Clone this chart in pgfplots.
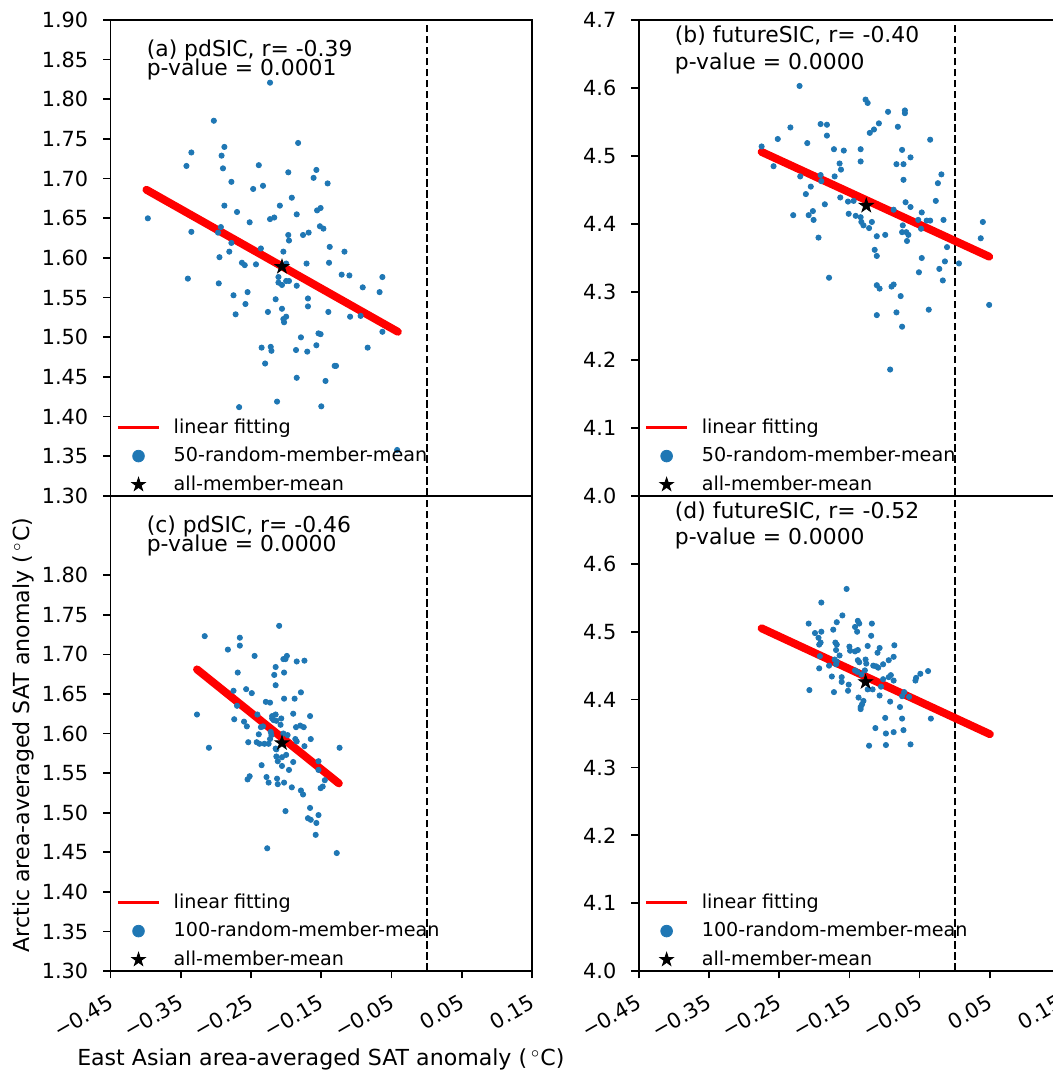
\documentclass[border=0pt]{standalone}
\usepackage{fontspec}
\setmainfont{DejaVu Sans}
\usepackage{pgfplots}
\pgfplotsset{compat=1.18}

\definecolor{mpblue}{HTML}{1F77B4}

% filled five-point star, like matplotlib's '*'
\pgfdeclareplotmark{fstar}{%
  \pgfpathmoveto{\pgfpointpolar{90}{\pgfplotmarksize}}%
  \pgfpathlineto{\pgfpointpolar{126}{0.382\pgfplotmarksize}}%
  \pgfpathlineto{\pgfpointpolar{162}{\pgfplotmarksize}}%
  \pgfpathlineto{\pgfpointpolar{198}{0.382\pgfplotmarksize}}%
  \pgfpathlineto{\pgfpointpolar{234}{\pgfplotmarksize}}%
  \pgfpathlineto{\pgfpointpolar{270}{0.382\pgfplotmarksize}}%
  \pgfpathlineto{\pgfpointpolar{306}{\pgfplotmarksize}}%
  \pgfpathlineto{\pgfpointpolar{342}{0.382\pgfplotmarksize}}%
  \pgfpathlineto{\pgfpointpolar{18}{\pgfplotmarksize}}%
  \pgfpathlineto{\pgfpointpolar{54}{0.382\pgfplotmarksize}}%
  \pgfpathclose
  \pgfusepathqfillstroke}

\tikzset{txt/.style={anchor=base west, font=\fontsize{10.5}{12}\selectfont, inner sep=0pt}}

\pgfplotsset{
  panel/.style={
    scale only axis, width=202.27pt,
    axis line style={black, line width=0.8pt},
    tick align=outside, tick pos=left, major tick length=3.5pt,
    tick style={black, line width=0.8pt},
    xmin=-0.45, xmax=0.15,
    xtick={-0.45,-0.35,-0.25,-0.15,-0.05,0.05,0.15},
    xticklabels={−0.45,−0.35,−0.25,−0.15,−0.05,0.05,0.15},
    xticklabel style={rotate=30, anchor=north east, inner sep=2pt, xshift=-3pt, yshift=-3.2pt},
    yticklabel style={xshift=-3.7pt},
    tick label style={font=\fontsize{10}{12}\selectfont},
    legend cell align=left,
    legend style={at={(0,0)}, anchor=south west, yshift=0.5pt,
      draw=none, fill=none, inner sep=0pt, row sep=4.2pt,
      /tikz/every odd column/.append style={column sep=6.1pt},
      font=\fontsize{9.2}{10}\selectfont,
      nodes={inner xsep=0pt, inner ysep=0pt, text height=7.5pt, text depth=2pt}},
  },
  toppanel/.style={panel, height=228.48pt, xmajorticks=false},
  botpanel/.style={panel, height=228pt},
  sat/.style={only marks, mark=*, mark size=1.25pt, color=mpblue, forget plot},
  fit/.style={red, line width=3.8pt, line cap=round, forget plot},
  amean/.style={only marks, mark=fstar, mark size=3.5pt, color=black, forget plot},
  zero/.style={black, line width=1pt, dash pattern=on 3.7pt off 1.6pt, forget plot},
}

\newcommand{\legendentries}[1]{%
  \addlegendimage{legend image code/.code={\path[draw=none, fill=none] (0pt,0pt) (24pt,0pt); \draw[red, line width=1.4pt] (3.36pt,0pt) -- (23.1pt,0pt);}}
  \addlegendentry{linear fitting}
  \addlegendimage{legend image code/.code={\path[draw=none, fill=none] (0pt,0pt) (24pt,0pt); \fill[mpblue] (13.2pt,0pt) circle (2.8pt);}}
  \addlegendentry{#1}
  \addlegendimage{legend image code/.code={\path[draw=none, fill=none] (0pt,0pt) (24pt,0pt); \path[black, fill=black, mark options={fill=black, draw=black}] plot[mark=fstar, mark size=3.4pt] coordinates {(13.2pt,0pt)};}}
  \addlegendentry{all-member-mean}
}

\begin{document}
\begin{tikzpicture}

% (a)
\begin{axis}[toppanel, at={(53.09pt,276.48pt)}, anchor=south west,
  ymin=1.3, ymax=1.9,
  ytick={1.30,1.35,1.40,1.45,1.50,1.55,1.60,1.65,1.70,1.75,1.80,1.85,1.90},
  yticklabel={\pgfmathprintnumber[fixed,fixed zerofill,precision=2,assume math mode=true]{\tick}}]
\legendentries{50-random-member-mean}
\addplot[zero] coordinates {(0,1.3) (0,1.9)};
\addplot[sat] coordinates {
(-0.223,1.821) (-0.303,1.773) (-0.335,1.733) (-0.288,1.740) (-0.292,1.729) (-0.342,1.716)
(-0.290,1.713) (-0.239,1.717) (-0.278,1.696) (-0.247,1.687) (-0.233,1.691) (-0.288,1.666)
(-0.270,1.658) (-0.209,1.666) (-0.223,1.649) (-0.217,1.651) (-0.397,1.650) (-0.335,1.633)
(-0.252,1.645) (-0.293,1.639) (-0.297,1.632) (-0.278,1.619) (-0.236,1.612) (-0.281,1.608)
(-0.295,1.601) (-0.263,1.594) (-0.259,1.591) (-0.243,1.592) (-0.183,1.745) (-0.197,1.708)
(-0.157,1.711) (-0.161,1.701) (-0.141,1.694) (-0.192,1.676) (-0.185,1.655) (-0.156,1.660)
(-0.151,1.663) (-0.152,1.640) (-0.147,1.637) (-0.197,1.629) (-0.196,1.622) (-0.176,1.629)
(-0.168,1.632) (-0.138,1.614) (-0.117,1.608) (-0.204,1.608) (-0.171,1.593) (-0.139,1.594)
(-0.200,1.593) (-0.340,1.574) (-0.296,1.568) (-0.275,1.553) (-0.255,1.557) (-0.258,1.542)
(-0.272,1.529) (-0.215,1.548) (-0.226,1.532) (-0.211,1.576) (-0.211,1.569) (-0.206,1.566)
(-0.235,1.487) (-0.222,1.488) (-0.221,1.483) (-0.230,1.467) (-0.267,1.412) (-0.213,1.419)
(-0.200,1.571) (-0.196,1.571) (-0.185,1.565) (-0.121,1.579) (-0.110,1.578) (-0.063,1.576)
(-0.091,1.563) (-0.067,1.557) (-0.169,1.549) (-0.169,1.539) (-0.206,1.536) (-0.140,1.532)
(-0.200,1.526) (-0.204,1.523) (-0.203,1.519) (-0.109,1.526) (-0.094,1.527) (-0.063,1.507)
(-0.179,1.500) (-0.154,1.505) (-0.151,1.504) (-0.157,1.490) (-0.186,1.484) (-0.170,1.482)
(-0.084,1.487) (-0.131,1.464) (-0.129,1.464) (-0.185,1.449) (-0.144,1.445) (-0.150,1.413)
(-0.042,1.358)
};
\addplot[fit] coordinates {(-0.399,1.686) (-0.041,1.507)};
\addplot[amean] coordinates {(-0.206,1.589)};
\node[txt] at (rel axis cs:0.085,0.923) {(a) pdSIC, r= -0.39};
\node[txt] at (rel axis cs:0.085,0.883) {p-value = 0.0001};
\end{axis}

% (b)
\begin{axis}[toppanel, at={(306.58pt,276.48pt)}, anchor=south west,
  ymin=4.0, ymax=4.7,
  ytick={4.0,4.1,4.2,4.3,4.4,4.5,4.6,4.7},
  yticklabel={\pgfmathprintnumber[fixed,fixed zerofill,precision=1,assume math mode=true]{\tick}}]
\legendentries{50-random-member-mean}
\addplot[zero] coordinates {(0,4.0) (0,4.7)};
\addplot[sat] coordinates {
(-0.221,4.603) (-0.127,4.583) (-0.124,4.578) (-0.234,4.542) (-0.191,4.547) (-0.182,4.546)
(-0.108,4.548) (-0.115,4.539) (-0.121,4.534) (-0.252,4.525) (-0.182,4.530) (-0.210,4.519)
(-0.275,4.514) (-0.172,4.510) (-0.158,4.508) (-0.134,4.510) (-0.134,4.492) (-0.164,4.489)
(-0.162,4.480) (-0.258,4.485) (-0.220,4.470) (-0.191,4.472) (-0.190,4.463) (-0.171,4.470)
(-0.205,4.455) (-0.212,4.444) (-0.163,4.439) (-0.152,4.433) (-0.144,4.434) (-0.185,4.429)
(-0.230,4.413) (-0.208,4.413) (-0.202,4.419) (-0.201,4.406) (-0.151,4.415) (-0.141,4.412)
(-0.134,4.410) (-0.133,4.403) (-0.130,4.398) (-0.118,4.403) (-0.122,4.394) (-0.111,4.382)
(-0.194,4.380) (-0.114,4.362) (-0.095,4.565) (-0.071,4.567) (-0.071,4.563) (-0.081,4.543)
(-0.035,4.524) (-0.075,4.509) (-0.063,4.498) (-0.083,4.488) (-0.073,4.488) (-0.073,4.465)
(-0.019,4.473) (-0.024,4.460) (-0.027,4.434) (-0.070,4.432) (-0.063,4.425) (-0.087,4.421)
(-0.047,4.417) (-0.052,4.406) (-0.040,4.405) (-0.035,4.405) (-0.016,4.406) (-0.074,4.398)
(-0.048,4.393) (-0.075,4.388) (-0.069,4.388) (-0.066,4.384) (-0.099,4.384) (-0.068,4.375)
(-0.011,4.366) (0.040,4.403) (0.037,4.379) (-0.111,4.353) (-0.179,4.321) (-0.111,4.310)
(-0.107,4.305) (-0.111,4.266) (-0.047,4.350) (-0.014,4.345) (-0.022,4.334) (0.006,4.342)
(-0.051,4.329) (-0.017,4.317) (-0.090,4.308) (-0.087,4.311) (-0.077,4.294) (-0.083,4.270)
(-0.037,4.274) (-0.075,4.249) (0.049,4.281) (-0.092,4.186)
};
\addplot[fit] coordinates {(-0.275,4.506) (0.049,4.352)};
\addplot[amean] coordinates {(-0.126,4.427)};
\node[txt] at (rel axis cs:0.085,0.953) {(b) futureSIC, r= -0.40};
\node[txt] at (rel axis cs:0.085,0.897) {p-value = 0.0000};
\end{axis}

% (c)
\begin{axis}[botpanel, at={(53.09pt,48.48pt)}, anchor=south west,
  ymin=1.3, ymax=1.9,
  ytick={1.30,1.35,1.40,1.45,1.50,1.55,1.60,1.65,1.70,1.75,1.80},
  yticklabel={\pgfmathprintnumber[fixed,fixed zerofill,precision=2,assume math mode=true]{\tick}}]
\legendentries{100-random-member-mean}
\addplot[zero] coordinates {(0,1.3) (0,1.9)};
\addplot[sat] coordinates {
(-0.210,1.736) (-0.316,1.723) (-0.266,1.721) (-0.266,1.711) (-0.283,1.706) (-0.245,1.698)
(-0.215,1.684) (-0.269,1.677) (-0.217,1.674) (-0.215,1.661) (-0.275,1.654) (-0.257,1.656)
(-0.249,1.651) (-0.229,1.640) (-0.223,1.639) (-0.270,1.635) (-0.327,1.624) (-0.274,1.618)
(-0.260,1.615) (-0.256,1.609) (-0.241,1.624) (-0.220,1.622) (-0.215,1.624) (-0.218,1.617)
(-0.214,1.616) (-0.236,1.608) (-0.233,1.609) (-0.239,1.599) (-0.221,1.598) (-0.223,1.593)
(-0.254,1.589) (-0.242,1.589) (-0.238,1.587) (-0.231,1.587) (-0.225,1.587) (-0.310,1.582)
(-0.215,1.581) (-0.214,1.571) (-0.212,1.565) (-0.235,1.560) (-0.252,1.546) (-0.255,1.542)
(-0.228,1.545) (-0.225,1.538) (-0.213,1.543) (-0.212,1.536) (-0.227,1.455) (-0.199,1.698)
(-0.201,1.694) (-0.204,1.694) (-0.185,1.691) (-0.174,1.692) (-0.203,1.677) (-0.179,1.652)
(-0.203,1.644) (-0.188,1.644) (-0.190,1.625) (-0.166,1.622) (-0.220,1.619) (-0.207,1.619)
(-0.208,1.611) (-0.186,1.608) (-0.180,1.610) (-0.175,1.608) (-0.222,1.602) (-0.198,1.598)
(-0.204,1.600) (-0.187,1.593) (-0.185,1.590) (-0.165,1.593) (-0.174,1.584) (-0.124,1.582)
(-0.200,1.573) (-0.206,1.570) (-0.206,1.559) (-0.190,1.564) (-0.196,1.554) (-0.154,1.565)
(-0.154,1.554) (-0.145,1.541) (-0.203,1.538) (-0.192,1.532) (-0.148,1.533) (-0.151,1.531)
(-0.179,1.528) (-0.176,1.523) (-0.201,1.502) (-0.166,1.506) (-0.154,1.497) (-0.169,1.493)
(-0.165,1.491) (-0.157,1.487) (-0.158,1.472) (-0.128,1.449) (-0.214,1.580)
};
\addplot[fit] coordinates {(-0.327,1.681) (-0.125,1.537)};
\addplot[amean] coordinates {(-0.206,1.588)};
\node[txt] at (rel axis cs:0.085,0.923) {(c) pdSIC, r= -0.46};
\node[txt] at (rel axis cs:0.085,0.883) {p-value = 0.0000};
\end{axis}

% (d)
\begin{axis}[botpanel, at={(306.58pt,48.48pt)}, anchor=south west,
  ymin=4.0, ymax=4.7,
  ytick={4.0,4.1,4.2,4.3,4.4,4.5,4.6},
  yticklabel={\pgfmathprintnumber[fixed,fixed zerofill,precision=1,assume math mode=true]{\tick}}]
\legendentries{100-random-member-mean}
\addplot[zero] coordinates {(0,4.0) (0,4.7)};
\addplot[sat] coordinates {
(-0.154,4.563) (-0.190,4.543) (-0.160,4.524) (-0.208,4.512) (-0.168,4.514) (-0.138,4.516)
(-0.136,4.512) (-0.142,4.507) (-0.173,4.503) (-0.139,4.500) (-0.199,4.498) (-0.190,4.500)
(-0.194,4.491) (-0.191,4.484) (-0.193,4.481) (-0.170,4.484) (-0.168,4.481) (-0.150,4.478)
(-0.124,4.479) (-0.169,4.473) (-0.149,4.472) (-0.142,4.471) (-0.138,4.473) (-0.164,4.465)
(-0.192,4.464) (-0.171,4.459) (-0.168,4.456) (-0.169,4.452) (-0.138,4.458) (-0.136,4.455)
(-0.127,4.459) (-0.126,4.453) (-0.179,4.450) (-0.193,4.446) (-0.142,4.443) (-0.139,4.441)
(-0.133,4.437) (-0.128,4.443) (-0.175,4.434) (-0.161,4.433) (-0.161,4.426) (-0.151,4.422)
(-0.124,4.415) (-0.207,4.414) (-0.172,4.411) (-0.152,4.413) (-0.137,4.403) (-0.130,4.398)
(-0.132,4.393) (-0.134,4.389) (-0.134,4.386) (-0.122,4.332) (-0.118,4.512) (-0.119,4.494)
(-0.107,4.476) (-0.110,4.469) (-0.086,4.480) (-0.087,4.463) (-0.094,4.458) (-0.116,4.450)
(-0.112,4.449) (-0.109,4.447) (-0.102,4.452) (-0.038,4.442) (-0.049,4.438) (-0.055,4.432)
(-0.056,4.428) (-0.091,4.436) (-0.094,4.433) (-0.087,4.428) (-0.102,4.430) (-0.105,4.419)
(-0.117,4.415) (-0.072,4.411) (-0.075,4.405) (-0.107,4.406) (-0.065,4.404) (-0.092,4.397)
(-0.078,4.389) (-0.099,4.373) (-0.075,4.372) (-0.034,4.372) (-0.113,4.358) (-0.073,4.355)
(-0.098,4.350) (-0.087,4.352) (-0.098,4.333) (-0.063,4.334)
};
\addplot[fit] coordinates {(-0.275,4.505) (0.050,4.349)};
\addplot[amean] coordinates {(-0.127,4.426)};
\node[txt] at (rel axis cs:0.085,0.953) {(d) futureSIC, r= -0.52};
\node[txt] at (rel axis cs:0.085,0.897) {p-value = 0.0000};
\end{axis}

\node[rotate=90, font=\fontsize{10.6}{12}\selectfont] at (11.04pt,161.76pt) {Arctic area-averaged SAT anomaly (\,$^\circ$C)};
\node[font=\fontsize{10.6}{12}\selectfont] at (154pt,5.95pt) {East Asian area-averaged SAT anomaly (\,$^\circ$C)};

\pgfresetboundingbox
\useasboundingbox (0pt,0pt) rectangle (505.44pt,514.56pt);
\end{tikzpicture}
\end{document}
